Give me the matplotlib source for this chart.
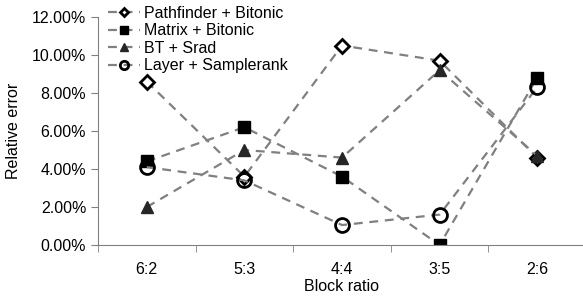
import matplotlib.pyplot as plt
import numpy as np
from matplotlib.ticker import PercentFormatter

plt.rcParams['font.family'] = ['Liberation Sans', 'DejaVu Sans']
plt.rcParams['font.size'] = 11.5

ratios = ['6:2', '5:3', '4:4', '3:5', '2:6']
pathfinder = [8.6, 3.6, 10.5, 9.7, 4.6]
matrix = [4.4, 6.2, 3.6, 0.0, 8.8]
bt_srad = [2.0, 5.0, 4.6, 9.2, 4.7]
layer = [4.1, 3.4, 1.05, 1.6, 8.3]

fig = plt.figure(figsize=(5.83, 2.97), dpi=100)
ax = fig.add_axes([98/583, 52/297, 488/583, 228/297])

x = np.arange(len(ratios))
line = dict(color='#808080', linestyle=(0, (4, 3)), linewidth=1.6)
ax.plot(x, pathfinder, marker='D', markersize=7, markerfacecolor='white',
        markeredgecolor='black', markeredgewidth=2, label='Pathfinder + Bitonic', **line)
ax.plot(x, matrix, marker='s', markersize=9, markerfacecolor='black',
        markeredgecolor='black', label='Matrix + Bitonic', **line)
ax.plot(x, bt_srad, marker='^', markersize=9, markerfacecolor='#262626',
        markeredgecolor='#262626', label='BT + Srad', **line)
ax.plot(x, layer, marker='o', markersize=10, markerfacecolor='none',
        markeredgecolor='black', markeredgewidth=2, label='Layer + Samplerank', **line)

ax.set_xlim(-0.5, len(ratios) - 0.5)
ax.set_ylim(0, 12)
ax.set_yticks(np.arange(0, 12.1, 2))
ax.yaxis.set_major_formatter(PercentFormatter(decimals=2))
ax.set_xticks(x)
ax.set_xticklabels(ratios)
ax.set_xticks(np.arange(-0.5, len(ratios), 1), minor=True)
ax.tick_params(axis='x', which='major', length=0, pad=12)
ax.tick_params(axis='x', which='minor', length=5, color='#808080')
ax.tick_params(axis='y', length=5, color='#808080')
for s in ['top', 'right']:
    ax.spines[s].set_visible(False)
for s in ['left', 'bottom']:
    ax.spines[s].set_color('#808080')
ax.set_xlabel('Block ratio', labelpad=2)
ax.set_ylabel('Relative error', labelpad=8)

ax.legend(loc='upper left', bbox_to_anchor=(0.0, 1.09), frameon=False,
          handlelength=2.0, handletextpad=0.3, labelspacing=0.15, borderaxespad=0.2,
          markerscale=0.6)

fig.savefig('out.png')
